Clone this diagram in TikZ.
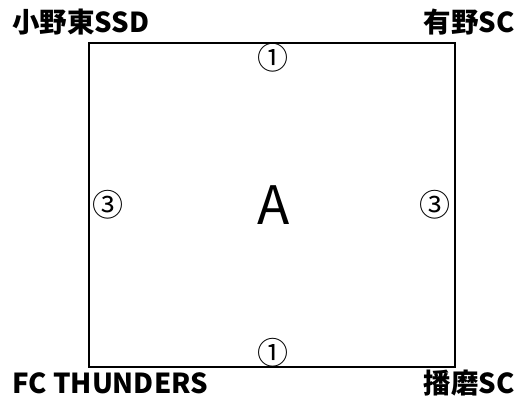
\documentclass[tikz,border=0pt]{standalone}
\usepackage{fontspec}
\setmainfont{Noto Sans CJK JP}
\tikzset{
	team/.style={font=\bfseries\fontsize{27.5}{27.5}\selectfont, inner sep=0pt},
	side/.style={font=\fontsize{31}{31}\selectfont, inner sep=0pt},
}
\begin{document}
\begin{tikzpicture}[x=1pt,y=-1pt]
	\useasboundingbox (0,0) rectangle (522,399);
	\node [draw, line width=1.8pt, minimum width=366pt, minimum height=324pt, inner sep=0pt] (field) at (272,205) {};
	
	\node [team, anchor=west] (onohigashi) at (12,22) {小野東SSD};
	\node [team, anchor=east] (arino) at (515,22) {有野SC};
	\node [team, anchor=west] (thunders) at (12,383) {FC THUNDERS};
	\node [team, anchor=east] (harima) at (515,383) {播磨SC};
	
	\node [side] (north) at (273,58) {①};
	\node [side] (south) at (273,353) {①};
	\node [side] (west) at (108,205) {③};
	\node [side] (east) at (435,205) {③};
	
	\node [font=\fontsize{53}{53}\selectfont, inner sep=0pt] (pool) at (274,205) {A};
\end{tikzpicture}
\end{document}
